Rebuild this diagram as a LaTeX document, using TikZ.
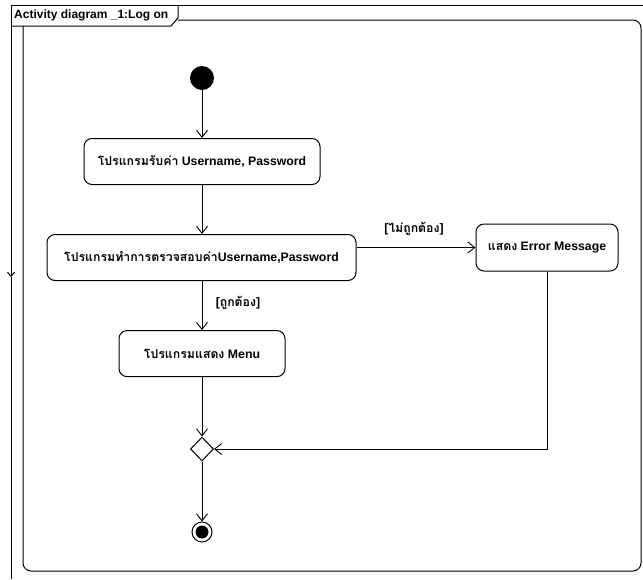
\documentclass[tikz,border=0pt]{standalone}
\usepackage{fontspec}
\setmainfont{Liberation Sans}
\newfontfamily\thai[Script=Thai]{Loma}
\usetikzlibrary{arrows.meta,shapes.geometric}

\begin{document}
\begin{tikzpicture}[x=1pt,y=-1pt,
  every node/.style={font=\fontsize{12.3}{14}\selectfont\bfseries, inner sep=0pt},
  frameline/.style={line width=1pt, black},
  action/.style={draw, line width=1pt, rounded corners=8pt, align=center},
  flow/.style={line width=0.9pt, -{Straight Barb[length=7pt,width=11pt,line width=0.9pt]}},
  guard/.style={font=\fontsize{12.3}{14}\selectfont\bfseries},
]
\useasboundingbox (0,0) rectangle (643,579);

% outer frame and name tab
\coordinate (ot) at (11,5);
\coordinate (om) at (11,277);
\coordinate (ob) at (11,579);
\draw[frameline] (ot) -- (643,5);
\draw[frameline, -{Straight Barb[length=4pt,width=7pt]}] (ot) -- (om);
\draw[frameline] (om) -- (ob);
\draw[frameline] (12,26) -- (171,26) -- (178,18) -- (178,5);
\node[anchor=west, font=\fontsize{12}{14}\selectfont\bfseries] (title) at (14,15.5) {Activity diagram \_1:Log on};

% inner rounded frame
\draw[frameline, rounded corners=8pt] (178,20) -| (641,571) -| (23,26);

% activity nodes
\node[circle, fill=black, minimum size=24pt] (init) at (202,78) {};
\node[action, minimum width=236pt, minimum height=46pt] (act1) at (202,161.5)
  {{\thai\bfseries โปรแกรมรับค่า} Username, Password};
\node[action, minimum width=309pt, minimum height=46pt] (act2) at (201.5,257.5)
  {{\thai\bfseries โปรแกรมทำการตรวจสอบค่า}Username,Password};
\node[action, minimum width=142pt, minimum height=47pt] (err) at (547,247.5)
  {{\thai\bfseries แสดง} Error Message};
\node[action, minimum width=166pt, minimum height=46pt] (menu) at (202,353.6)
  {{\thai\bfseries โปรแกรมแสดง} Menu};
\node[diamond, draw, line width=1pt, minimum width=23pt, minimum height=24pt] (merge) at (202,449) {};
\node[circle, draw, line width=1pt, minimum size=20pt] (final) at (202,532) {};
\node[circle, fill=black, minimum size=13pt] (finaldot) at (final.center) {};

% guards
\node[guard] (gno) at (414,229) {[{\thai\bfseries ไม่ถูกต้อง}]};
\node[guard] (gyes) at (238,303) {[{\thai\bfseries ถูกต้อง}]};

% control flows
\draw[flow] (init) -- (act1);
\draw[flow] (act1) -- (act1 |- act2.north);
\draw[flow] (act2.east |- err.west) -- (err.west);
\draw[flow] (act2.south -| menu.north) -- (menu.north);
\draw[flow] (menu) -- (merge);
\draw[flow] (err.south) |- (merge.east);
\draw[flow] (merge) -- (final);
\end{tikzpicture}
\end{document}
